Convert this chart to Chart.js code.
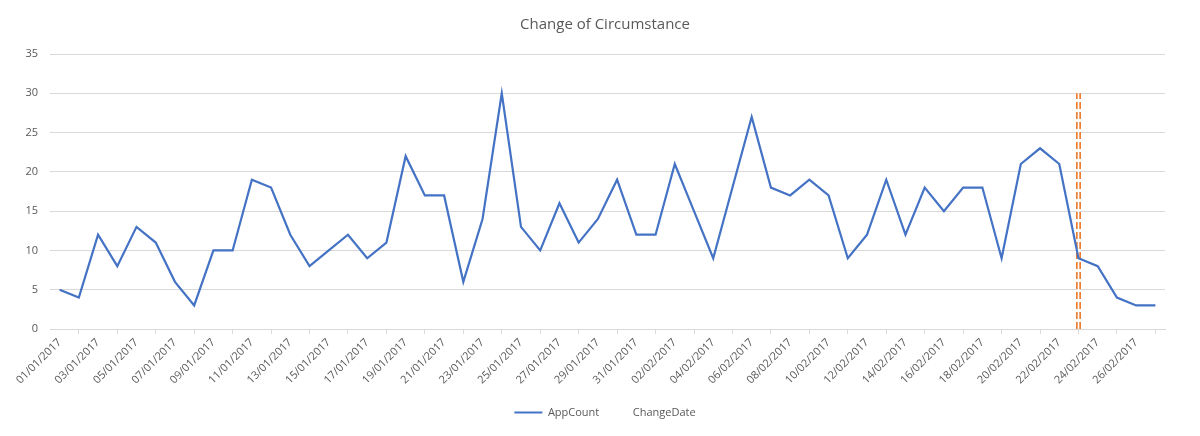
<!DOCTYPE html>
<html lang="en">
<head>
<meta charset="UTF-8">
<title>Change of Circumstance</title>
<script src="https://cdn.jsdelivr.net/npm/chart.js"></script>
<style>
  html, body { margin: 0; padding: 0; background: #fff; }
  #wrap { width: 1200px; height: 436px; }
</style>
</head>
<body>
<div id="wrap"><canvas id="myChart" width="1200" height="436"></canvas></div>
<script>
const dates = [
  '01/01/2017','02/01/2017','03/01/2017','04/01/2017','05/01/2017','06/01/2017','07/01/2017','08/01/2017',
  '09/01/2017','10/01/2017','11/01/2017','12/01/2017','13/01/2017','14/01/2017','15/01/2017','16/01/2017',
  '17/01/2017','18/01/2017','19/01/2017','20/01/2017','21/01/2017','22/01/2017','23/01/2017','24/01/2017',
  '25/01/2017','26/01/2017','27/01/2017','28/01/2017','29/01/2017','30/01/2017','31/01/2017','01/02/2017',
  '02/02/2017','03/02/2017','04/02/2017','05/02/2017','06/02/2017','07/02/2017','08/02/2017','09/02/2017',
  '10/02/2017','11/02/2017','12/02/2017','13/02/2017','14/02/2017','15/02/2017','16/02/2017','17/02/2017',
  '18/02/2017','19/02/2017','20/02/2017','21/02/2017','22/02/2017','23/02/2017','24/02/2017','25/02/2017',
  '26/02/2017','27/02/2017'
];

const appCount = [
  5, 4, 12, 8, 13, 11, 6, 3, 10, 10, 19, 18, 12, 8, 10, 12, 9, 11,
  22, 17, 17, 6, 14, 30, 13, 10, 16, 11, 14, 19, 12, 12, 21, 15, 9, 18, 27, 18, 17,
  19, 17, 9, 12, 19, 12, 18, 15, 18, 18, 9, 21, 23, 21, 9, 8, 4, 3, 3
];

// vertical marker for the change date
const changeDate = '23/02/2017';
const changeDateValues = [0, 30];

const yTicks = { min: 0, max: 35, step: 5 };

const grey = '#595959';
const gridGrey = '#d9d9d9';
const blue = '#4472c4';
const orange = '#ed7d31';

const markerData = changeDateValues.map(v => ({ x: changeDate, y: v }));

const ctx = document.getElementById('myChart').getContext('2d');
new Chart(ctx, {
  type: 'line',
  data: {
    labels: dates,
    datasets: [
      {
        label: 'AppCount',
        data: appCount,
        borderColor: blue,
        backgroundColor: blue,
        borderWidth: 2.2,
        pointRadius: 0,
        tension: 0,
        order: 0
      },
      {
        label: '_gap',
        data: markerData,
        borderColor: '#ffffff',
        borderWidth: 1.6,
        pointRadius: 0,
        order: 1
      },
      {
        label: 'ChangeDate',
        data: markerData,
        borderColor: orange,
        borderWidth: 5,
        borderDash: [7, 3],
        pointRadius: 0,
        order: 2
      }
    ]
  },
  options: {
    responsive: false,
    animation: false,
    layout: { padding: { left: 10, right: 0, top: 5, bottom: 8 } },
    plugins: {
      title: {
        display: true,
        text: 'Change of Circumstance',
        color: grey,
        font: { family: 'Open Sans', size: 15, weight: 'normal' },
        padding: { top: 11, bottom: 20 }
      },
      legend: {
        position: 'bottom',
        labels: {
          color: grey,
          font: { family: 'Open Sans', size: 11 },
          boxWidth: 28,
          boxHeight: 2,
          padding: 0,
          filter: item => item.text !== '_gap',
          generateLabels: chart => chart.data.datasets.map((ds, i) => ({
            text: ds.label,
            datasetIndex: i,
            fillStyle: ds.label === 'AppCount' ? blue : 'rgba(0,0,0,0)',
            strokeStyle: 'rgba(0,0,0,0)',
            lineWidth: 0,
            fontColor: grey,
            hidden: false
          }))
        }
      },
      tooltip: { enabled: false }
    },
    scales: {
      x: {
        offset: true,
        grid: {
          offset: true,
          drawOnChartArea: false,
          drawTicks: true,
          tickLength: 5,
          color: gridGrey
        },
        border: { display: true, color: gridGrey, width: 1 },
        ticks: {
          autoSkip: false,
          minRotation: 45,
          maxRotation: 45,
          color: grey,
          font: { family: 'Open Sans', size: 11 },
          padding: 2,
          callback: (v, i) => (i % 2 === 0 ? dates[i] : null)
        },
        afterFit: s => { s.height = 78; }
      },
      y: {
        min: yTicks.min,
        max: yTicks.max,
        ticks: {
          stepSize: yTicks.step,
          color: grey,
          font: { family: 'Open Sans', size: 11 },
          padding: 12
        },
        grid: { color: gridGrey, drawTicks: false },
        border: { display: false },
        afterFit: s => { s.width = 40; }
      },
      // empty right-hand margin so the chart sits like the original
      yRight: {
        position: 'right',
        display: true,
        min: yTicks.min,
        max: yTicks.max,
        ticks: { display: false },
        grid: { display: false, drawOnChartArea: false },
        border: { display: false },
        afterFit: s => { s.width = 35; }
      }
    }
  }
});
</script>
</body>
</html>
